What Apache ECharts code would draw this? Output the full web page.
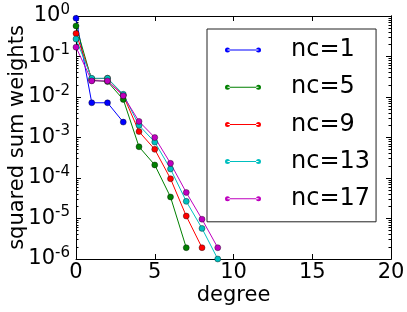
<!DOCTYPE html>
<html>
<head>
<meta charset="utf-8">
<script src="https://cdn.jsdelivr.net/npm/echarts@6/dist/echarts.min.js"></script>
<style>
html,body{margin:0;padding:0;background:#fff;}
#c{width:407px;height:312px;}
</style>
</head>
<body>
<div id="c"></div>
<script>
const degrees = [0, 1, 2, 3, 4, 5, 6, 7, 8, 9];
const seriesNames = ['nc=1', 'nc=5', 'nc=9', 'nc=13', 'nc=17'];
const seriesColors = ['#0000ff', '#008000', '#ff0000', '#00bfbf', '#bf00bf'];
const nc1 = [0.88, 7.2e-3, 7.2e-3, 2.4e-3];
const nc5 = [0.57, 0.026, 0.024, 0.0087, 5.9e-4, 2.1e-4, 3.4e-5, 1.9e-6];
const nc9 = [0.37, 0.028, 0.029, 0.011, 1.4e-3, 5.1e-4, 9.6e-5, 1.15e-5, 1.9e-6];
const nc13 = [0.27, 0.029, 0.029, 0.0117, 2.0e-3, 7.7e-4, 1.67e-4, 2.65e-5, 5.7e-6, 1.0e-6];
const nc17 = [0.17, 0.025, 0.025, 0.0107, 2.5e-3, 1.0e-3, 2.3e-4, 4.4e-5, 9.6e-6, 1.9e-6];
const xTicks = [0, 5, 10, 15, 20];
const yMajorTicks = [1e-6, 1e-5, 1e-4, 1e-3, 1e-2, 1e-1, 1];

const allValues = [nc1, nc5, nc9, nc13, nc17];
const yMinorTicks = [];
for (let e = -6; e < 0; e++) {
  for (let k = 2; k <= 9; k++) yMinorTicks.push(k * Math.pow(10, e));
}

const FONT = 'DejaVu Sans';
const chart = echarts.init(document.getElementById('c'), null, {renderer: 'canvas'});

function yAxisCfg(pos, minor, withLabels) {
  return {
    type: 'log', logBase: 10, min: 1e-6, max: 1, position: pos,
    axisLine: {show: true, onZero: false, lineStyle: {color: '#000', width: 1}},
    axisTick: {show: true, inside: true, length: minor ? 2.5 : 5,
      customValues: minor ? yMinorTicks : yMajorTicks,
      lineStyle: {color: '#000', width: 1}},
    minorTick: {show: false},
    splitLine: {show: false},
    axisLabel: withLabels ? {
      show: true, margin: 6, customValues: yMajorTicks,
      formatter: function (v) {
        const e = Math.round(Math.log10(v));
        return '{b|10}{s|' + e + '}';
      },
      rich: {
        b: {fontFamily: FONT, fontSize: 21, color: '#000', lineHeight: 24},
        s: {fontFamily: FONT, fontSize: 15, color: '#000', lineHeight: 24, padding: [0, 0, 12, 0]}
      }
    } : {show: false}
  };
}

const option = {
  animation: false,
  backgroundColor: '#fff',
  grid: {left: 76, right: 16, top: 16, bottom: 53, containLabel: false, outerBoundsMode: 'none'},
  xAxis: [{
    type: 'value', min: 0, max: 20, interval: 5, position: 'bottom',
    name: 'degree', nameLocation: 'middle', nameGap: 26, nameMoveOverlap: false,
    nameTextStyle: {fontFamily: FONT, fontSize: 21, color: '#000'},
    axisLine: {show: true, onZero: false, lineStyle: {color: '#000', width: 1}},
    axisTick: {show: true, inside: true, length: 5, lineStyle: {color: '#000'}},
    splitLine: {show: false},
    axisLabel: {fontFamily: FONT, fontSize: 21, color: '#000', margin: 3,
      customValues: xTicks}
  }, {
    type: 'value', min: 0, max: 20, interval: 5, position: 'top',
    axisLine: {show: true, onZero: false, lineStyle: {color: '#000', width: 1}},
    axisTick: {show: true, inside: true, length: 5, lineStyle: {color: '#000'}},
    splitLine: {show: false},
    axisLabel: {show: false}
  }],
  yAxis: [
    Object.assign(yAxisCfg('left', false, true), {
      name: 'squared sum weights', nameLocation: 'middle', nameGap: 48, nameMoveOverlap: false,
      nameTextStyle: {fontFamily: FONT, fontSize: 21, color: '#000'}
    }),
    yAxisCfg('left', true, false),
    yAxisCfg('right', false, false),
    yAxisCfg('right', true, false)
  ],
  legend: {
    orient: 'vertical', left: 207, top: 29,
    padding: [9, 6, 11, 18], itemGap: 13.2,
    itemWidth: 36, itemHeight: 5,
    icon: 'path://M0,2.5 A2.5,2.5 0 1,0 5,2.5 A2.5,2.5 0 1,0 0,2.5 Z M2.5,2 L33.5,2 L33.5,3 L2.5,3 Z M31,2.5 A2.5,2.5 0 1,0 36,2.5 A2.5,2.5 0 1,0 31,2.5 Z',
    borderColor: '#222', borderWidth: 1, borderRadius: 0, backgroundColor: '#fff',
    itemStyle: {borderWidth: 0},
    textStyle: {fontFamily: FONT, fontSize: 24, color: '#000', lineHeight: 24, padding: [0, 0, 0, 25]},
    data: seriesNames
  },
  series: seriesNames.map(function (name, i) {
    return {
      name: name, type: 'line', xAxisIndex: 0, yAxisIndex: 0,
      data: allValues[i].map(function (v, j) { return [degrees[j], v]; }),
      symbol: 'circle', symbolSize: 6, showSymbol: true,
      lineStyle: {color: seriesColors[i], width: 1},
      itemStyle: {color: seriesColors[i], borderColor: 'rgba(0,0,0,0.55)', borderWidth: 0.7},
      emphasis: {disabled: true}
    };
  })
};
chart.setOption(option);
</script>
</body>
</html>
